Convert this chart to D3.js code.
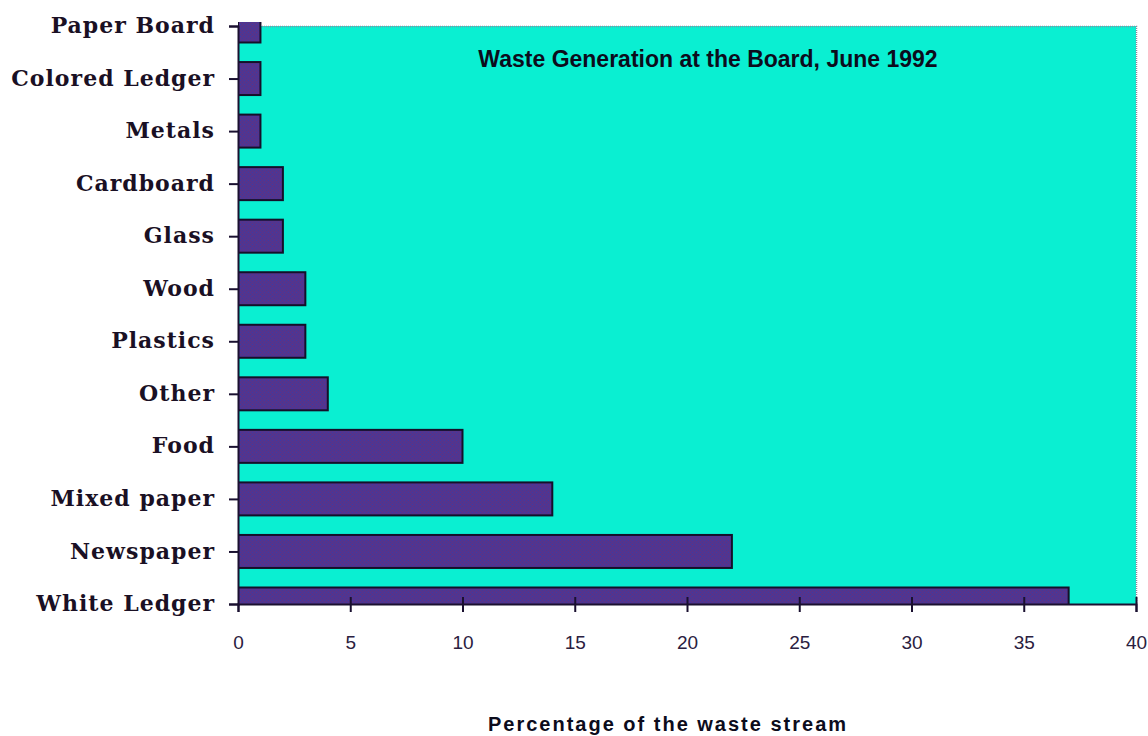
<!DOCTYPE html>
<html>
<head>
<meta charset="utf-8">
<script src="https://cdn.jsdelivr.net/npm/d3@7"></script>
<style>
  body { margin: 0; background: #fff; }
  svg { display: block; }
</style>
</head>
<body>
<svg id="chart" width="1148" height="736"></svg>
<script>
// categories top to bottom, values in percent
var categories = ["Paper Board", "Colored Ledger", "Metals", "Cardboard", "Glass", "Wood",
                  "Plastics", "Other", "Food", "Mixed paper", "Newspaper", "White Ledger"];
var values = [1, 1, 1, 2, 2, 3, 3, 4, 10, 14, 22, 37];
var xTicks = [0, 5, 10, 15, 20, 25, 30, 35, 40];
var chartTitle = "Waste Generation at the Board, June 1992";
var xTitle = "Percentage of the waste stream";

var svg = d3.select("#chart");
// note: "top" is reserved on window, so use plot* names
var plotLeft = 238, plotRight = 1136, plotTop = 26, plotBottom = 604;

var x = d3.scaleLinear().domain([0, 40]).range([plotLeft, plotRight]);
var y = d3.scalePoint().domain(categories).range([plotTop, plotBottom]);
var barH = 33;

var data = categories.map(function (c, i) { return { name: c, value: values[i] }; });

// pattern to mimic the dithered bar fill
var defs = svg.append("defs");
var pat = defs.append("pattern").attr("id", "dither")
    .attr("width", 4).attr("height", 4).attr("patternUnits", "userSpaceOnUse");
pat.append("rect").attr("width", 4).attr("height", 4).attr("fill", "#55348c");
pat.append("rect").attr("x", 0).attr("y", 0).attr("width", 1).attr("height", 1).attr("fill", "#3a3aa8");
pat.append("rect").attr("x", 2).attr("y", 2).attr("width", 1).attr("height", 1).attr("fill", "#3f3a9c");

defs.append("clipPath").attr("id", "plotclip")
  .append("rect").attr("x", plotLeft).attr("y", 22)
    .attr("width", plotRight - plotLeft).attr("height", plotBottom - 22);

// plot background
svg.append("rect")
    .attr("x", plotLeft).attr("y", plotTop)
    .attr("width", plotRight - plotLeft).attr("height", plotBottom - plotTop)
    .attr("fill", "#0aefd2");

// dotted frame on top and right
svg.append("path")
    .attr("d", "M" + plotLeft + "," + (plotTop + 0.5) + "H" + (plotRight + 0.5) + "V" + plotBottom)
    .attr("fill", "none").attr("stroke", "#8a8aa0").attr("stroke-width", 1.5)
    .attr("stroke-dasharray", "1,1");

// bars
svg.append("g").attr("clip-path", "url(#plotclip)")
  .selectAll("rect").data(data).enter().append("rect")
    .attr("x", x(0))
    .attr("y", function (d) { return y(d.name) - barH / 2; })
    .attr("width", function (d) { return x(d.value) - x(0); })
    .attr("height", barH)
    .attr("fill", "url(#dither)")
    .attr("stroke", "#14102a").attr("stroke-width", 2);

// y axis
var yAxis = svg.append("g").attr("transform", "translate(" + plotLeft + ",0)")
    .call(d3.axisLeft(y).tickSize(9).tickPadding(14));
yAxis.select(".domain").attr("stroke", "#1a1030").attr("stroke-width", 2);
yAxis.selectAll(".tick line").attr("stroke", "#1a1030").attr("stroke-width", 2);
yAxis.selectAll(".tick text")
    .attr("dy", "0.3em")
    .attr("fill", "#1a1024")
    .style("font-family", "'DejaVu Serif', serif")
    .style("font-weight", "bold")
    .style("font-size", "22px")
    .style("letter-spacing", "1px");

// x axis
var xAxis = svg.append("g").attr("transform", "translate(0," + plotBottom + ")")
    .call(d3.axisBottom(x).tickValues(xTicks).tickSize(8).tickPadding(24));
xAxis.select(".domain").attr("stroke", "#1a1030").attr("stroke-width", 2);
xAxis.selectAll(".tick line")
    .attr("y1", function (d) { return d === 0 ? 0 : -7; })
    .attr("stroke", "#1a1030").attr("stroke-width", 2);
xAxis.selectAll(".tick text")
    .attr("fill", "#2a2040")
    .style("font-family", "'Liberation Sans', sans-serif")
    .style("font-size", "19px");

// titles
svg.append("text")
    .attr("x", 708).attr("y", 67)
    .attr("text-anchor", "middle")
    .attr("fill", "#0c0c1c")
    .style("font-family", "'Liberation Sans', Arial, sans-serif")
    .style("font-weight", "bold")
    .style("font-size", "23px")
    .text(chartTitle);

svg.append("text")
    .attr("x", 668).attr("y", 731)
    .attr("text-anchor", "middle")
    .attr("fill", "#0c0c1c")
    .style("font-family", "'Liberation Sans', Arial, sans-serif")
    .style("font-weight", "bold")
    .style("font-size", "20px")
    .style("letter-spacing", "2px")
    .text(xTitle);
</script>
</body>
</html>
